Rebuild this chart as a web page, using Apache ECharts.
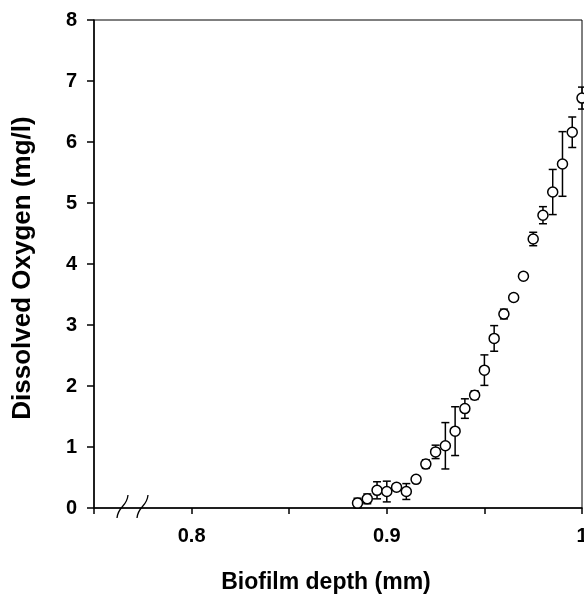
<!DOCTYPE html>
<html>
<head>
<meta charset="utf-8">
<script src="https://cdn.jsdelivr.net/npm/echarts@6/dist/echarts.min.js"></script>
<style>
  html, body { margin: 0; padding: 0; background: #fff; }
  #chart { width: 584px; height: 594px; }
</style>
</head>
<body>
<div id="chart"></div>
<script>
// depth (mm) of each reading
const depth = [0.885, 0.89, 0.895, 0.9, 0.905, 0.91, 0.915, 0.92, 0.925, 0.93, 0.935, 0.94,
  0.945, 0.95, 0.955, 0.96, 0.965, 0.97, 0.975, 0.98, 0.985, 0.99, 0.995, 1.0]
// mean dissolved oxygen (mg/l)
const oxygen = [0.08, 0.15, 0.29, 0.27, 0.34, 0.27, 0.47, 0.72, 0.92, 1.02, 1.26, 1.63,
  1.85, 2.26, 2.78, 3.18, 3.45, 3.80, 4.41, 4.80, 5.18, 5.64, 6.16, 6.72]
// standard deviation
const errSd = [0.08, 0.08, 0.14, 0.17, 0.05, 0.13, 0.05, 0.07, 0.11, 0.38, 0.40, 0.16,
  0.07, 0.25, 0.21, 0.08, 0.05, 0.05, 0.11, 0.14, 0.37, 0.53, 0.25, 0.18]
const xLabels = [0.8, 0.9, 1]

const font = 'Arial, "Liberation Sans", sans-serif'
const points = depth.map((d, i) => [d, oxygen[i]])
const errData = depth.map((d, i) => [d, oxygen[i] - errSd[i], oxygen[i] + errSd[i]])

const chart = echarts.init(document.getElementById('chart'))

// 误差线
function renderErr(params, api) {
  const lo = api.coord([api.value(0), api.value(1)])
  const hi = api.coord([api.value(0), api.value(2)])
  const w = 4
  const st = { stroke: '#000', lineWidth: 1.5 }
  return {
    type: 'group',
    children: [
      { type: 'line', shape: { x1: lo[0], y1: lo[1], x2: hi[0], y2: hi[1] }, style: st },
      { type: 'line', shape: { x1: lo[0] - w, y1: lo[1], x2: lo[0] + w, y2: lo[1] }, style: st },
      { type: 'line', shape: { x1: hi[0] - w, y1: hi[1], x2: hi[0] + w, y2: hi[1] }, style: st }
    ]
  }
}

const option = {
  animation: false,
  grid: {
    left: 94, right: 2, top: 20, bottom: 86,
    outerBoundsMode: 'none',
    containLabel: false,
    show: true, borderColor: '#000', borderWidth: 1
  },
  xAxis: {
    type: 'value',
    min: 0.75, max: 1.0, interval: 0.05,
    name: 'Biofilm depth (mm)',
    nameLocation: 'middle',
    nameGap: 63,
    nameTextStyle: { fontFamily: font, fontWeight: 'bold', fontSize: 23, color: '#000', padding: [0, 24, 0, 0] },
    axisLine: { lineStyle: { color: '#000', width: 1.5 } },
    axisTick: { inside: false, length: 6, lineStyle: { color: '#000', width: 1.5 } },
    axisLabel: {
      margin: 18,
      fontFamily: font, fontWeight: 'bold', fontSize: 20, color: '#000',
      formatter: v => {
        const hit = xLabels.find(t => Math.abs(t - v) < 1e-6)
        return hit === undefined ? '' : String(hit)
      }
    },
    splitLine: { show: false }
  },
  yAxis: {
    type: 'value',
    min: 0, max: 8, interval: 1,
    name: 'Dissolved Oxygen (mg/l)',
    nameLocation: 'middle',
    nameGap: 58,
    nameTextStyle: { fontFamily: font, fontWeight: 'bold', fontSize: 26, color: '#000', padding: [0, 8, 0, 0] },
    axisLine: { show: true, lineStyle: { color: '#000', width: 1.5 } },
    axisTick: { show: true, inside: false, length: 7, lineStyle: { color: '#000', width: 1.5 } },
    axisLabel: { margin: 17, fontFamily: font, fontWeight: 'bold', fontSize: 20, color: '#000' },
    splitLine: { show: false }
  },
  // 坐标轴断裂符号
  graphic: [
    { type: 'bezierCurve', shape: { x1: 117, y1: 518, cpx1: 118, cpy1: 506, cpx2: 127, cpy2: 507, x2: 128, y2: 495 },
      style: { stroke: '#000', lineWidth: 1.3, fill: null }, z: 100 },
    { type: 'bezierCurve', shape: { x1: 137, y1: 518, cpx1: 138, cpy1: 506, cpx2: 147, cpy2: 507, x2: 148, y2: 495 },
      style: { stroke: '#000', lineWidth: 1.3, fill: null }, z: 100 }
  ],
  series: [
    {
      type: 'custom',
      data: errData,
      renderItem: renderErr,
      clip: false,
      z: 1
    },
    {
      type: 'scatter',
      data: points,
      symbol: 'circle',
      symbolSize: 10,
      clip: false,
      itemStyle: { color: '#fff', borderColor: '#000', borderWidth: 1.5, opacity: 1 },
      z: 2
    }
  ]
}
chart.setOption(option)

window.addEventListener('resize', () => {
  chart.resize()
})
</script>
</body>
</html>
